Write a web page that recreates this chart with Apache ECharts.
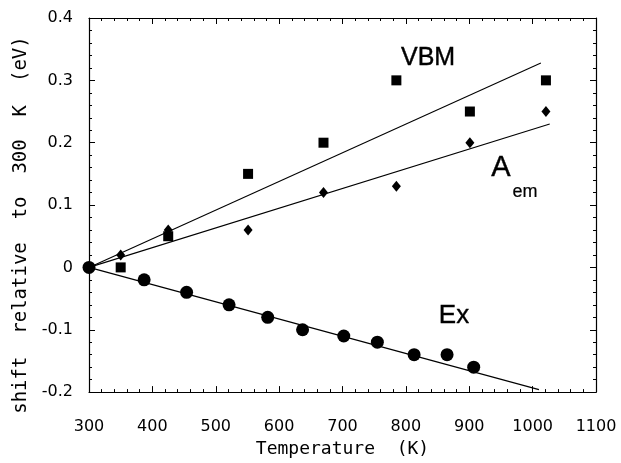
<!DOCTYPE html>
<html><head><meta charset="utf-8">
<script src="https://cdn.jsdelivr.net/npm/echarts@6/dist/echarts.min.js"></script>
<style>html,body{margin:0;padding:0;background:#fff}#c{width:621px;height:463px}</style>
</head><body><div id="c"></div>
<script>
// ---- data ----
const exTemps = [300, 387, 454, 521, 582, 637, 702, 755, 813, 865, 907];
const exShift = [0, -0.02, -0.04, -0.06, -0.08, -0.10, -0.11, -0.12, -0.14, -0.14, -0.16];
const vbmTemps = [350, 425, 551, 670, 785, 901, 1021];
const vbmShift = [0, 0.05, 0.15, 0.20, 0.30, 0.25, 0.30];
const aemTemps = [350, 425, 551, 670, 785, 901, 1021];
const aemShift = [0.02, 0.06, 0.06, 0.12, 0.13, 0.20, 0.25];
// linear fits: [start T, start shift, end T, end shift]
const vbmFit = [300, 0, 1013, 0.328];
const aemFit = [300, 0, 1027, 0.230];
const exFit = [300, 0, 1010, -0.196];
// annotations [T, shift, text]
const annVBM = [835, 0.335, 'VBM'];
const annA = [950, 0.159, 'A'];
const annEm = [988, 0.121, 'em'];
const annEx = [876, -0.078, 'Ex'];
const xTicks = {min: 300, max: 1100, interval: 100};
const yTicks = {min: -0.2, max: 0.4, interval: 0.1};
const xTitle = 'Temperature  (K)';
const yTitle = 'shift  relative  to  300  K  (eV)';

const pairs = (xs, ys) => xs.map((x, i) => [x, ys[i]]);
const fitLine = f => [[f[0], f[1]], [f[2], f[3]]];

const black = '#000';
const baseAxis = {
  axisLine: {show: true, onZero: false, lineStyle: {color: black, width: 1.2}},
  axisTick: {show: true, inside: true, length: 6, lineStyle: {color: black, width: 1}},
  minorTick: {show: true, splitNumber: 5, length: 3, lineStyle: {color: black, width: 1}},
  splitLine: {show: false}
};
function ax(extra) { return Object.assign({}, JSON.parse(JSON.stringify(baseAxis)), extra); }

function textSeries(a, size, border) {
  return {
    type: 'scatter', xAxisIndex: 0, yAxisIndex: 0, symbol: 'circle', symbolSize: 1,
    itemStyle: {color: 'rgba(0,0,0,0)', opacity: 1}, silent: true, z: 5,
    data: [[a[0], a[1]]],
    label: {show: true, position: 'inside', formatter: a[2], color: black, opacity: 1,
            textBorderColor: black, textBorderWidth: border,
            fontSize: size, fontFamily: 'Liberation Sans, Arial, sans-serif'}
  };
}

const chart = echarts.init(document.getElementById('c'), null, {renderer: 'canvas'});
chart.setOption({
  animation: false,
  backgroundColor: '#fff',
  grid: {left: 89, right: 25, top: 18, bottom: 70.5},
  xAxis: [
    ax({type: 'value', position: 'bottom', min: xTicks.min, max: xTicks.max, interval: xTicks.interval,
        axisLabel: {color: black, fontSize: 16, fontFamily: 'DejaVu Sans', margin: 27, formatter: v => String(v)},
        name: xTitle, nameLocation: 'middle', nameGap: 46,
        nameTextStyle: {color: black, fontSize: 18, fontFamily: 'DejaVu Sans Mono'}}),
    ax({type: 'value', position: 'top', min: xTicks.min, max: xTicks.max, interval: xTicks.interval,
        axisLabel: {show: false}})
  ],
  yAxis: [
    ax({type: 'value', position: 'left', min: yTicks.min, max: yTicks.max, interval: yTicks.interval,
        axisLabel: {color: black, fontSize: 16, fontFamily: 'DejaVu Sans', margin: 16},
        name: yTitle, nameLocation: 'middle', nameGap: 52, nameRotate: 90,
        nameTextStyle: {color: black, fontSize: 19, fontFamily: 'DejaVu Sans Mono', padding: [0, 40, 0, 0]}}),
    ax({type: 'value', position: 'right', min: yTicks.min, max: yTicks.max, interval: yTicks.interval,
        axisLabel: {show: false}})
  ],
  series: [
    {type: 'line', data: fitLine(vbmFit), showSymbol: false, symbol: 'none', lineStyle: {color: black, width: 1.1}, z: 2, silent: true},
    {type: 'line', data: fitLine(aemFit), showSymbol: false, symbol: 'none', lineStyle: {color: black, width: 1.1}, z: 2, silent: true},
    {type: 'line', data: fitLine(exFit), showSymbol: false, symbol: 'none', lineStyle: {color: black, width: 1.1}, z: 2, silent: true},
    {type: 'scatter', name: 'VBM', data: pairs(vbmTemps, vbmShift), symbol: 'rect', symbolSize: 10, itemStyle: {color: black, opacity: 1}, z: 3},
    {type: 'scatter', name: 'Aem', data: pairs(aemTemps, aemShift), symbol: 'diamond', symbolSize: [9, 11], itemStyle: {color: black, opacity: 1}, z: 3},
    {type: 'scatter', name: 'Ex', data: pairs(exTemps, exShift), symbol: 'circle', symbolSize: 13, itemStyle: {color: black, opacity: 1}, z: 4},
    textSeries(annVBM, 25, 0.4),
    textSeries(annA, 29, 0.4),
    textSeries(annEm, 18, 0.2),
    textSeries(annEx, 26, 0.4)
  ]
});
</script></body></html>
